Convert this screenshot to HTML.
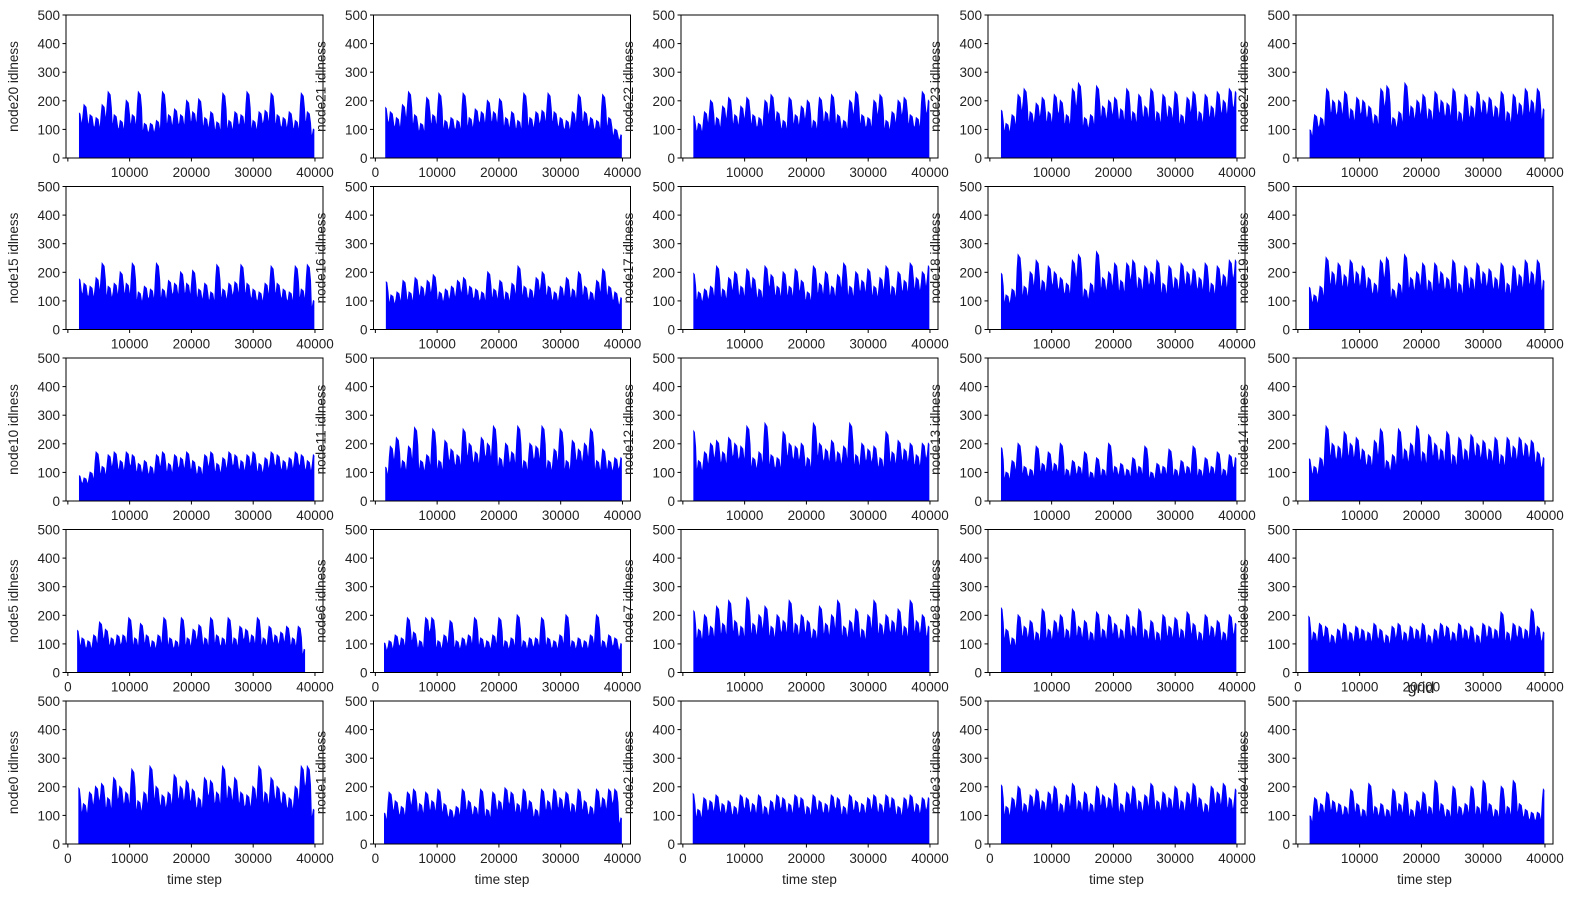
<!DOCTYPE html>
<html><head><meta charset="utf-8">
<style>
body{margin:0;background:#fff;}
svg text{font-family:"Liberation Sans",sans-serif;fill:#222;}
</style></head>
<body>
<svg id="fig" width="1573" height="900" viewBox="0 0 1573 900" xmlns="http://www.w3.org/2000/svg"></svg>
<script>
// Data: upper envelope of idleness per node, sampled every ~975 steps
const nodeNames = [20,21,22,23,24,15,16,17,18,19,10,11,12,13,14,5,6,7,8,9,0,1,2,3,4];
const xStart = [1800,1600,1700,1800,1900,1800,1700,1700,1800,1800,1800,1600,1700,1800,1800,1500,1400,1700,1800,1700,1700,1400,1600,1800,1900];
const xEnd = [39900,39900,39900,39900,39900,39900,39900,39900,39900,39900,39900,39900,39900,39900,39900,38400,39900,39900,39900,39900,39900,39900,39900,39900,39900];
const lowVals = [15,15,15,15,12,15,25,12,12,15,15,20,12,15,30,10,10,15,20,25,12,12,10,12,15];
const upper = [
[160,185,150,140,185,230,150,130,200,150,230,120,120,130,230,150,170,150,200,160,205,140,160,125,225,130,160,150,230,130,160,165,225,150,140,160,130,225,160,100],
[180,160,140,185,230,150,120,210,150,225,130,140,130,225,140,170,160,200,160,205,140,160,130,225,140,160,165,225,160,140,130,160,220,160,140,130,220,140,100,80],
[150,120,160,200,140,180,210,150,180,210,150,140,200,220,160,130,210,150,180,200,130,210,160,220,150,130,200,230,150,140,200,220,130,160,200,210,150,140,230,200],
[170,120,150,220,240,160,190,210,160,220,200,150,240,260,140,150,250,180,200,210,170,240,160,220,180,240,160,220,180,230,150,210,230,160,220,180,230,200,240,230],
[100,150,140,240,200,200,230,170,210,200,180,150,240,250,140,160,260,180,200,220,170,230,200,190,240,160,220,180,230,200,210,180,230,160,220,190,240,200,240,170],
[180,160,150,180,230,150,160,200,160,230,130,150,140,230,140,170,160,200,160,205,140,160,130,225,140,160,165,225,160,140,130,160,220,160,140,130,220,140,225,100],
[170,120,130,170,130,180,150,170,190,130,140,150,170,180,150,140,130,200,140,170,130,160,220,150,140,180,200,150,130,150,180,140,200,150,130,170,210,150,130,110],
[200,130,140,150,220,140,180,200,150,210,180,140,220,190,150,200,150,210,170,130,220,160,200,150,190,230,150,200,170,210,150,180,220,150,200,170,230,180,200,220],
[200,120,140,260,150,200,240,170,220,200,180,160,240,260,140,160,270,180,200,230,170,230,240,180,220,200,240,160,220,180,230,200,210,180,230,160,220,190,240,240],
[150,120,150,250,200,230,190,240,200,220,180,160,240,250,140,160,260,180,200,230,170,230,200,180,240,160,220,180,230,200,210,180,230,160,220,190,240,200,240,170],
[90,80,100,170,120,160,170,140,170,160,130,140,120,160,170,130,160,150,170,140,120,160,170,130,150,170,160,140,160,170,130,150,170,160,140,150,170,160,140,160],
[120,190,220,140,190,255,140,160,250,140,210,180,160,250,200,170,220,200,260,150,200,170,260,140,200,190,260,140,180,250,140,210,180,200,250,140,180,140,150,150],
[250,140,170,200,210,170,220,200,190,260,150,170,270,160,150,240,200,190,200,150,270,200,180,210,170,190,270,160,200,180,190,150,240,170,210,180,200,160,200,200],
[190,100,140,200,120,110,190,130,170,130,200,110,140,120,170,100,150,110,200,120,130,110,150,120,190,100,130,120,180,110,140,120,190,110,150,120,170,110,160,150],
[150,120,150,260,200,190,240,200,220,180,160,210,250,140,160,250,180,200,260,170,230,200,180,240,160,220,180,230,200,210,180,220,160,220,190,220,200,210,170,150],
[150,120,110,130,175,150,120,130,130,190,120,170,130,110,130,190,120,110,190,120,150,165,120,190,130,120,190,120,160,150,130,190,120,160,130,140,160,120,160,80],
[105,110,130,120,190,140,110,190,190,110,130,180,110,120,130,190,120,110,130,190,110,120,200,110,120,120,190,120,110,130,200,110,120,110,130,200,110,130,120,100],
[220,150,200,160,230,170,250,180,160,260,170,200,230,160,200,180,250,170,200,180,150,230,170,200,250,160,180,220,150,200,250,170,200,180,220,160,250,180,200,160],
[230,150,120,200,160,180,140,220,150,180,200,150,220,160,180,140,210,150,200,170,150,200,160,220,150,180,140,200,160,190,150,210,170,140,200,160,180,140,200,170],
[200,140,170,160,130,150,170,140,160,150,140,170,150,130,160,170,140,160,150,170,130,150,170,160,140,170,150,160,130,170,160,150,210,140,170,160,150,220,160,140],
[200,140,180,200,210,160,230,200,180,260,150,180,270,200,170,180,240,200,220,190,160,230,220,180,270,200,230,180,170,200,270,180,230,200,180,160,200,270,270,120],
[110,180,150,130,180,190,140,180,150,190,140,120,130,190,150,130,190,120,180,150,195,180,140,190,150,120,190,150,190,160,180,140,190,150,130,190,160,190,190,90],
[180,120,160,150,170,140,150,130,170,160,140,170,130,150,170,160,140,170,160,130,170,150,140,170,160,130,170,150,140,160,170,140,170,160,130,160,170,140,160,160],
[210,130,160,200,140,170,190,150,180,200,140,170,210,150,180,140,200,170,160,210,140,180,200,150,170,210,150,180,160,200,150,180,210,160,140,200,180,210,160,190],
[100,160,140,180,150,140,130,190,140,120,210,130,140,120,190,140,180,120,150,180,130,220,140,120,200,130,140,200,130,220,140,120,200,130,220,140,120,110,110,190]
];
const yTicks = [0,100,200,300,400,500];
const xTicks = [0,10000,20000,30000,40000];
const showZero = [false,true,false,false,false, false,false,false,false,false, false,false,false,false,false, true,true,false,false,true, true,true,true,true,false];

const NS="http://www.w3.org/2000/svg";
const svg=document.getElementById('fig');
const colLeft=[66,373.5,681,988,1296];
const rowTop=[15,186.5,358,529.5,701];
const W=257,H=143;
const xMin=-300,xMax=41300,yMin=0,yMax=500;
function mk(tag,attrs,parent){const e=document.createElementNS(NS,tag);for(const k in attrs)e.setAttribute(k,attrs[k]);(parent||svg).appendChild(e);return e;}
const defs=mk('defs',{});

for(let i=0;i<25;i++){
  const r=Math.floor(i/5),c=i%5;
  const L=colLeft[c],T=rowTop[r];
  const sx=v=>L+(v-xMin)/(xMax-xMin)*W;
  const sy=v=>T+H-(v-yMin)/(yMax-yMin)*H;
  const g=mk('g',{});
  
  
  const cp=mk('clipPath',{id:'cp'+i},defs);
  mk('rect',{x:sx(xStart[i]),y:T,width:sx(xEnd[i])-sx(xStart[i]),height:H},cp);
  const sg=mk('g',{'clip-path':'url(#cp'+i+')'},g);
  const up=upper[i],n=up.length;
  const step=(xEnd[i]-xStart[i])/(n-1);
  let pts=[];
  for(let k=0;k<n;k++){
    const x0=xStart[i]+k*step;
    const prev=k>0?up[k-1]:up[k];
    pts.push(sx(x0-step*0.5)+','+sy(Math.min(prev,up[k])*0.72));
    pts.push(sx(x0-step*0.3)+','+sy(up[k]*0.82));
    pts.push(sx(x0-step*0.15)+','+sy(up[k]));
    pts.push(sx(x0+step*0.15)+','+sy(up[k]*0.96));
    pts.push(sx(x0+step*0.35)+','+sy(up[k]*0.76));
  }
  pts.push(sx(xEnd[i]+500)+','+sy(up[n-1]*0.6));
  pts.push(sx(xEnd[i]+500)+','+sy(0));
  pts.push(sx(xStart[i]-500)+','+sy(0));
  const area=mk('polygon',{points:pts.join(' '),fill:'#0000ff',stroke:'#0000ff','stroke-width':1.2},sg);
  
  
  const fr=mk('rect',{x:L,y:T,width:W,height:H,fill:'none',stroke:'#000','stroke-width':1},g);
  
  
  yTicks.forEach(v=>{
    const y=sy(v);
    mk('line',{x1:L-3.5,x2:L,y1:y,y2:y,stroke:'#000','stroke-width':1},g);
    const t=mk('text',{x:L-6,y:y+5,'text-anchor':'end','font-size':13.5},g);
    t.textContent=v;
    
    
  });
  xTicks.forEach(v=>{
    const x=sx(v);
    mk('line',{x1:x,x2:x,y1:T+H,y2:T+H+3.5,stroke:'#000','stroke-width':1},g);
    if(v===0&&!showZero[i])return;
    const t=mk('text',{x:x,y:T+H+19,'text-anchor':'middle','font-size':13.5},g);
    t.textContent=v;
    
    
  });
  const yl=mk('text',{x:0,y:0,'text-anchor':'middle','font-size':13.5,transform:`translate(${L-48},${T+H/2}) rotate(-90)`},g);
  yl.textContent='node'+nodeNames[i]+' idlness';
  
  
  if(r===4){
    const xl=mk('text',{x:L+W/2,y:T+H+40,'text-anchor':'middle','font-size':13.5},g);
    xl.textContent='time step';
    
    
  }
}
const title=mk('text',{x:1421,y:693,'text-anchor':'middle','font-size':16});
title.textContent='grid';


</script>
</body></html>
